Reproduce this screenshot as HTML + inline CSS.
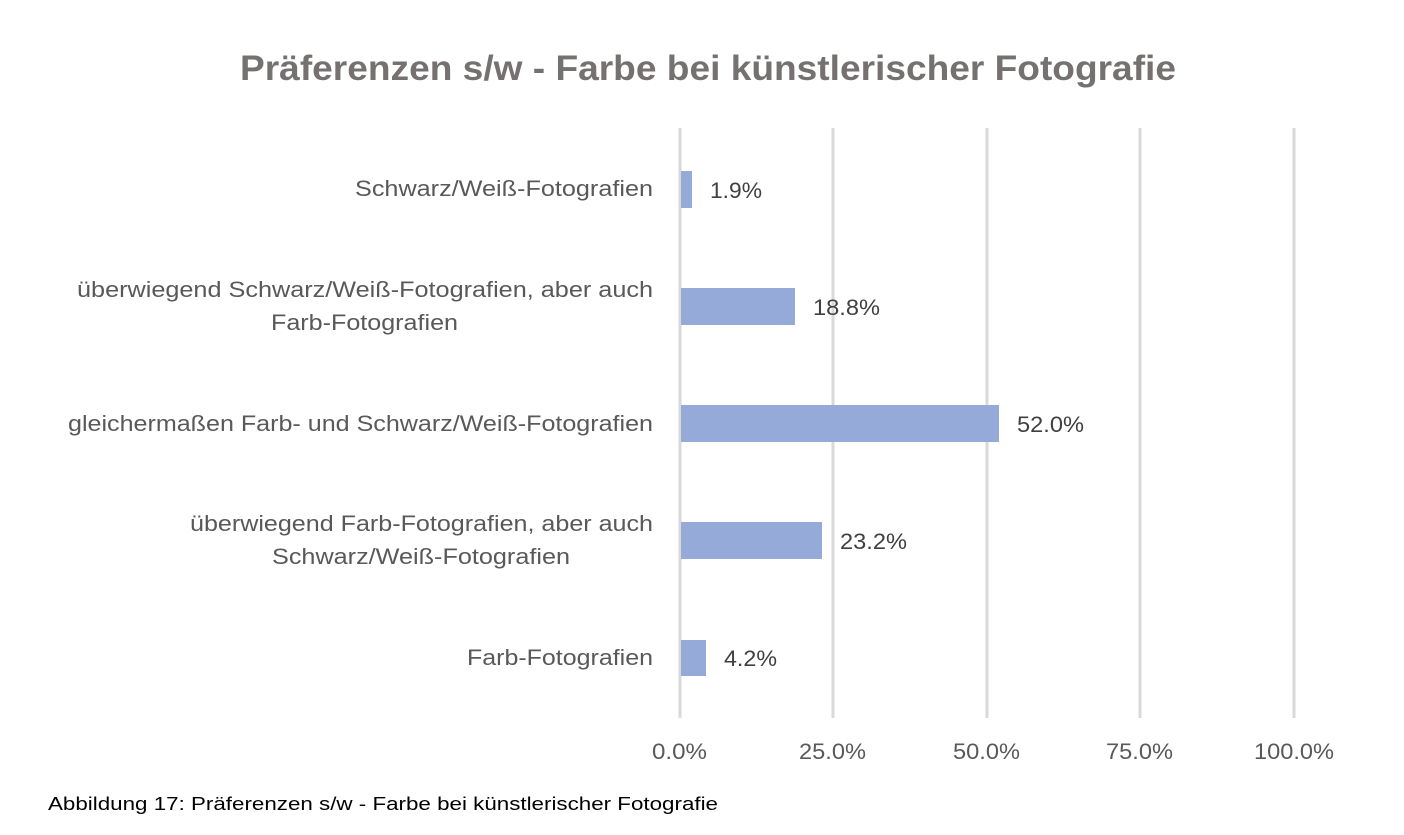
<!DOCTYPE html>
<html><head><meta charset="utf-8"><style>
body{margin:0;background:#fff;}
svg text{font-family:"Liberation Sans",sans-serif;}
</style></head><body>
<svg width="1404" height="830" xmlns="http://www.w3.org/2000/svg">
<rect width="1404" height="830" fill="#fff"/>
<text x="240" y="80" textLength="936" lengthAdjust="spacingAndGlyphs" font-size="35" font-weight="bold" fill="#767171">Präferenzen s/w - Farbe bei künstlerischer Fotografie</text>
<g stroke="#d9d9d9" stroke-width="3">
<line x1="680" y1="128" x2="680" y2="718"/>
<line x1="833" y1="128" x2="833" y2="718"/>
<line x1="987" y1="128" x2="987" y2="718"/>
<line x1="1140" y1="128" x2="1140" y2="718"/>
<line x1="1294" y1="128" x2="1294" y2="718"/>
</g>
<g fill="#95aad9">
<rect x="681" y="171" width="11" height="37"/>
<rect x="681" y="288" width="114" height="37"/>
<rect x="681" y="405" width="318" height="37"/>
<rect x="681" y="522" width="141" height="37"/>
<rect x="681" y="640" width="25" height="36"/>
</g>
<g font-size="22" fill="#404040" lengthAdjust="spacingAndGlyphs">
<text x="710" y="198" textLength="52" lengthAdjust="spacingAndGlyphs">1.9%</text>
<text x="813" y="315" textLength="67" lengthAdjust="spacingAndGlyphs">18.8%</text>
<text x="1017" y="432" textLength="67" lengthAdjust="spacingAndGlyphs">52.0%</text>
<text x="840" y="549" textLength="67" lengthAdjust="spacingAndGlyphs">23.2%</text>
<text x="724" y="666" textLength="53" lengthAdjust="spacingAndGlyphs">4.2%</text>
</g>
<g font-size="22" fill="#595959">
<text x="355" y="196" textLength="298" lengthAdjust="spacingAndGlyphs">Schwarz/Weiß-Fotografien</text>
<text x="77" y="297" textLength="576" lengthAdjust="spacingAndGlyphs">überwiegend Schwarz/Weiß-Fotografien, aber auch</text>
<text x="271" y="330" textLength="187" lengthAdjust="spacingAndGlyphs">Farb-Fotografien</text>
<text x="68" y="431" textLength="585" lengthAdjust="spacingAndGlyphs">gleichermaßen Farb- und Schwarz/Weiß-Fotografien</text>
<text x="190" y="531" textLength="463" lengthAdjust="spacingAndGlyphs">überwiegend Farb-Fotografien, aber auch</text>
<text x="272" y="564" textLength="298" lengthAdjust="spacingAndGlyphs">Schwarz/Weiß-Fotografien</text>
<text x="467" y="665" textLength="186" lengthAdjust="spacingAndGlyphs">Farb-Fotografien</text>
</g>
<g font-size="22" fill="#595959">
<text x="652" y="759" textLength="55" lengthAdjust="spacingAndGlyphs">0.0%</text>
<text x="799" y="759" textLength="67" lengthAdjust="spacingAndGlyphs">25.0%</text>
<text x="953" y="759" textLength="67" lengthAdjust="spacingAndGlyphs">50.0%</text>
<text x="1106" y="759" textLength="67" lengthAdjust="spacingAndGlyphs">75.0%</text>
<text x="1254" y="759" textLength="80" lengthAdjust="spacingAndGlyphs">100.0%</text>
</g>
<text x="48" y="810" font-size="18" fill="#000" textLength="670" lengthAdjust="spacingAndGlyphs">Abbildung 17: Präferenzen s/w - Farbe bei künstlerischer Fotografie</text>
</svg>
</body></html>
